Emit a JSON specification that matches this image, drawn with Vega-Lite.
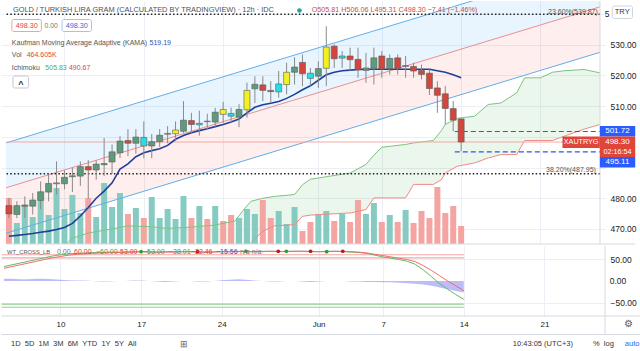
{
"$schema": "https://vega.github.io/schema/vega-lite/v6.json",
"background": "white",
"padding": 0,
"config": {"font": "Liberation Sans", "view": {"stroke": null}, "axis": {"labelOverlap": false, "labelBound": false}},
"datasets": {
"one": [{}],
"candles": [
{"i":0,"o":477.6,"h":480.1,"l":473.5,"c":474.9,"t":"down","v":1187,"d":"d"},
{"i":1,"o":474.7,"h":479.0,"l":473.5,"c":477.6,"t":"up","v":542,"d":"u"},
{"i":2,"o":477.4,"h":480.6,"l":473.6,"c":477.8,"t":"up","v":1006,"d":"u"},
{"i":3,"o":477.4,"h":481.7,"l":474.7,"c":479.4,"t":"up","v":697,"d":"u"},
{"i":4,"o":479.3,"h":485.5,"l":476.4,"c":482.1,"t":"up","v":1135,"d":"u"},
{"i":5,"o":482.0,"h":487.8,"l":479.0,"c":484.8,"t":"up","v":748,"d":"u"},
{"i":6,"o":484.7,"h":492.0,"l":481.3,"c":485.0,"t":"doji","v":1445,"d":"u"},
{"i":7,"o":484.7,"h":489.1,"l":482.9,"c":486.8,"t":"up","v":903,"d":"u"},
{"i":8,"o":487.0,"h":490.0,"l":482.0,"c":487.3,"t":"up","v":1264,"d":"u"},
{"i":9,"o":487.2,"h":492.0,"l":484.0,"c":490.3,"t":"up","v":800,"d":"u"},
{"i":10,"o":490.3,"h":492.4,"l":479.8,"c":489.2,"t":"down","v":1187,"d":"d"},
{"i":11,"o":489.2,"h":492.3,"l":486.0,"c":491.1,"t":"up","v":697,"d":"u"},
{"i":12,"o":490.9,"h":499.6,"l":487.2,"c":491.3,"t":"up","v":1574,"d":"u"},
{"i":13,"o":491.8,"h":497.5,"l":488.0,"c":495.1,"t":"up","v":955,"d":"u"},
{"i":14,"o":494.8,"h":500.2,"l":493.1,"c":498.6,"t":"up","v":1316,"d":"u"},
{"i":15,"o":498.8,"h":502.5,"l":493.7,"c":497.9,"t":"down","v":774,"d":"d"},
{"i":16,"o":497.9,"h":502.5,"l":494.5,"c":499.9,"t":"up","v":929,"d":"u"},
{"i":17,"o":499.8,"h":505.0,"l":493.0,"c":497.0,"t":"cyan","v":671,"d":"d"},
{"i":18,"o":497.0,"h":500.9,"l":493.0,"c":498.4,"t":"up","v":1213,"d":"u"},
{"i":19,"o":498.4,"h":502.5,"l":496.7,"c":500.5,"t":"up","v":671,"d":"u"},
{"i":20,"o":500.8,"h":503.5,"l":497.9,"c":501.1,"t":"doji","v":903,"d":"u"},
{"i":21,"o":501.0,"h":505.0,"l":498.6,"c":502.2,"t":"yellow","v":645,"d":"u"},
{"i":22,"o":501.8,"h":511.6,"l":501.3,"c":505.4,"t":"up","v":1238,"d":"u"},
{"i":23,"o":505.3,"h":507.8,"l":501.3,"c":504.0,"t":"down","v":671,"d":"d"},
{"i":24,"o":504.4,"h":508.5,"l":500.4,"c":503.9,"t":"cyan","v":980,"d":"u"},
{"i":25,"o":504.9,"h":507.5,"l":502.5,"c":505.1,"t":"doji","v":645,"d":"d"},
{"i":26,"o":504.8,"h":509.4,"l":502.9,"c":508.0,"t":"up","v":980,"d":"u"},
{"i":27,"o":507.3,"h":511.4,"l":504.5,"c":508.9,"t":"yellow","v":593,"d":"d"},
{"i":28,"o":507.6,"h":509.5,"l":504.5,"c":506.7,"t":"cyan","v":748,"d":"d"},
{"i":29,"o":506.4,"h":510.6,"l":503.1,"c":508.9,"t":"up","v":671,"d":"u"},
{"i":30,"o":508.8,"h":517.6,"l":506.2,"c":515.1,"t":"yellow","v":903,"d":"u"},
{"i":31,"o":515.6,"h":519.7,"l":511.0,"c":517.1,"t":"up","v":774,"d":"u"},
{"i":32,"o":516.9,"h":519.7,"l":511.6,"c":515.1,"t":"down","v":1135,"d":"d"},
{"i":33,"o":515.1,"h":518.1,"l":511.0,"c":514.7,"t":"down","v":671,"d":"d"},
{"i":34,"o":517.2,"h":521.4,"l":512.7,"c":514.6,"t":"cyan","v":851,"d":"u"},
{"i":35,"o":517.0,"h":524.1,"l":513.8,"c":521.0,"t":"yellow","v":516,"d":"u"},
{"i":36,"o":521.0,"h":525.9,"l":517.0,"c":522.7,"t":"up","v":955,"d":"u"},
{"i":37,"o":524.2,"h":526.8,"l":516.5,"c":520.5,"t":"down","v":335,"d":"d"},
{"i":38,"o":520.7,"h":522.4,"l":516.5,"c":519.0,"t":"cyan","v":568,"d":"d"},
{"i":39,"o":519.7,"h":524.6,"l":515.9,"c":522.2,"t":"up","v":774,"d":"u"},
{"i":40,"o":522.3,"h":536.0,"l":516.5,"c":529.2,"t":"yellow","v":851,"d":"u"},
{"i":41,"o":529.5,"h":530.1,"l":522.4,"c":525.4,"t":"down","v":593,"d":"d"},
{"i":42,"o":526.3,"h":527.9,"l":522.4,"c":525.6,"t":"cyan","v":774,"d":"u"},
{"i":43,"o":526.3,"h":529.0,"l":521.4,"c":525.1,"t":"down","v":568,"d":"d"},
{"i":44,"o":525.2,"h":529.0,"l":519.2,"c":521.8,"t":"down","v":1135,"d":"d"},
{"i":45,"o":521.6,"h":527.3,"l":517.6,"c":522.4,"t":"up","v":774,"d":"u"},
{"i":46,"o":522.3,"h":529.0,"l":517.0,"c":525.7,"t":"up","v":1058,"d":"u"},
{"i":47,"o":526.3,"h":527.9,"l":519.2,"c":522.1,"t":"down","v":568,"d":"d"},
{"i":48,"o":522.2,"h":526.8,"l":520.3,"c":525.5,"t":"up","v":748,"d":"u"},
{"i":49,"o":525.7,"h":526.8,"l":520.3,"c":522.3,"t":"down","v":568,"d":"d"},
{"i":50,"o":523.2,"h":526.3,"l":519.2,"c":522.9,"t":"doji","v":877,"d":"u"},
{"i":51,"o":522.9,"h":524.1,"l":519.2,"c":521.4,"t":"down","v":542,"d":"d"},
{"i":52,"o":521.6,"h":523.5,"l":518.7,"c":520.3,"t":"down","v":851,"d":"d"},
{"i":53,"o":520.7,"h":521.9,"l":513.6,"c":515.7,"t":"down","v":671,"d":"d"},
{"i":54,"o":515.9,"h":518.1,"l":507.8,"c":513.5,"t":"down","v":1471,"d":"d"},
{"i":55,"o":514.0,"h":516.5,"l":504.0,"c":509.2,"t":"down","v":800,"d":"d"},
{"i":56,"o":509.2,"h":511.6,"l":501.8,"c":505.4,"t":"down","v":980,"d":"d"},
{"i":57,"o":505.81,"h":506.06,"l":495.31,"c":498.3,"t":"down","v":465,"d":"d"}
],
"kama": [
{"i":0,"k":467.6},{"i":1,"k":467.9},{"i":2,"k":468.2},{"i":3,"k":468.5},{"i":4,"k":468.9},{"i":5,"k":469.3},{"i":6,"k":469.8},{"i":7,"k":470.5},{"i":8,"k":471.8},{"i":9,"k":474.2},{"i":10,"k":477.0},{"i":11,"k":480.0},{"i":12,"k":482.3},{"i":13,"k":485.0},{"i":14,"k":489.5},{"i":15,"k":491.2},{"i":16,"k":493.5},{"i":17,"k":494.8},{"i":18,"k":495.5},{"i":19,"k":496.1},{"i":20,"k":497.2},{"i":21,"k":499.2},{"i":22,"k":500.4},{"i":23,"k":501.3},{"i":24,"k":502.0},{"i":25,"k":502.6},{"i":26,"k":503.3},{"i":27,"k":504.0},{"i":28,"k":504.8},{"i":29,"k":505.8},{"i":30,"k":507.8},{"i":31,"k":509.6},{"i":32,"k":510.4},{"i":33,"k":510.9},{"i":34,"k":511.5},{"i":35,"k":512.5},{"i":36,"k":513.8},{"i":37,"k":515.3},{"i":38,"k":516.6},{"i":39,"k":518.4},{"i":40,"k":520.2},{"i":41,"k":521.0},{"i":42,"k":521.5},{"i":43,"k":521.7},{"i":44,"k":521.9},{"i":45,"k":522.0},{"i":46,"k":522.0},{"i":47,"k":522.0},{"i":48,"k":522.0},{"i":49,"k":522.0},{"i":50,"k":522.0},{"i":51,"k":522.0},{"i":52,"k":522.0},{"i":53,"k":522.0},{"i":54,"k":521.5},{"i":55,"k":521.0},{"i":56,"k":520.2},{"i":57,"k":519.2}
],
"cloud": [
{"i":6,"a":462,"b":440},{"i":8,"a":467,"b":440},{"i":10,"a":468.7,"b":440},{"i":13,"a":470,"b":440},{"i":15,"a":471,"b":440},{"i":18,"a":470.7,"b":440},{"i":20,"a":470.2,"b":440},{"i":23,"a":470.6,"b":440},{"i":26,"a":471.3,"b":440},{"i":28.5,"a":472.6,"b":452},{"i":29.5,"a":476,"b":460},{"i":30.5,"a":479,"b":465.5},{"i":32,"a":480,"b":469.3},{"i":33.5,"a":480.6,"b":471},{"i":36,"a":481.2,"b":471.4},{"i":37,"a":484.4,"b":474.1},{"i":38,"a":486.2,"b":474.5},{"i":40,"a":487,"b":474.8},{"i":43,"a":488.2,"b":475.2},{"i":45,"a":491,"b":476.3},{"i":46,"a":494,"b":480.1},{"i":47,"a":496.6,"b":480.1},{"i":50,"a":497.5,"b":480.1},{"i":51,"a":498,"b":484.5},{"i":53.5,"a":498.8,"b":484.5},{"i":54.5,"a":502,"b":486},{"i":55,"a":504,"b":488.2},{"i":56.5,"a":506,"b":490.4},{"i":58.7,"a":506.7,"b":491.5},{"i":60.4,"a":510.5,"b":493.1},{"i":62,"a":511,"b":494.2},{"i":64,"a":514.3,"b":494.2},{"i":65,"a":519.2,"b":498.8},{"i":67,"a":519.2,"b":498.8},{"i":68.5,"a":521,"b":498.8},{"i":70,"a":521.5,"b":500.2},{"i":72.5,"a":521.9,"b":502.5},{"i":74.5,"a":520.8,"b":504}
],
"channel": [
{"i":-0.37,"up":498.0,"mid":483.4,"lo":468.6},{"i":74.5,"up":556.9,"mid":542.3,"lo":527.5}
],
"osc": [
{"i":0,"g":33,"r":29,"b":5},{"i":1,"g":37,"r":33,"b":5},{"i":2,"g":41,"r":37,"b":4},{"i":3,"g":45,"r":41,"b":4},{"i":4,"g":49,"r":45,"b":5},{"i":5,"g":53,"r":49,"b":5},{"i":6,"g":57,"r":53,"b":4},{"i":7,"g":60,"r":56,"b":3},{"i":8,"g":62,"r":59,"b":2},{"i":9,"g":63,"r":61,"b":1},{"i":10,"g":64,"r":62,"b":1},{"i":11,"g":65,"r":63,"b":0},{"i":12,"g":65,"r":64,"b":-1},{"i":13,"g":66,"r":65,"b":-1},{"i":14,"g":66,"r":65,"b":0},{"i":15,"g":66,"r":66,"b":0},{"i":16,"g":67,"r":66,"b":1},{"i":17,"g":67,"r":67,"b":1},{"i":18,"g":66,"r":67,"b":0},{"i":19,"g":66,"r":66,"b":-1},{"i":20,"g":67,"r":66,"b":-2},{"i":21,"g":67,"r":66,"b":-1},{"i":22,"g":67,"r":67,"b":0},{"i":23,"g":67,"r":67,"b":0},{"i":24,"g":66,"r":67,"b":-1},{"i":25,"g":66,"r":66,"b":-1},{"i":26,"g":67,"r":66,"b":0},{"i":27,"g":67,"r":67,"b":2},{"i":28,"g":67,"r":67,"b":3},{"i":29,"g":68,"r":67,"b":4},{"i":30,"g":67,"r":68,"b":3},{"i":31,"g":67,"r":67,"b":1},{"i":32,"g":68,"r":67,"b":0},{"i":33,"g":68,"r":68,"b":-1},{"i":34,"g":67,"r":68,"b":-1},{"i":35,"g":68,"r":67,"b":0},{"i":36,"g":68,"r":68,"b":0},{"i":37,"g":68,"r":68,"b":-1},{"i":38,"g":67,"r":68,"b":-2},{"i":39,"g":67,"r":67,"b":-1},{"i":40,"g":68,"r":67,"b":0},{"i":41,"g":68,"r":68,"b":0},{"i":42,"g":67,"r":68,"b":0},{"i":43,"g":66,"r":67,"b":-1},{"i":44,"g":65,"r":66,"b":-1},{"i":45,"g":63,"r":64,"b":-2},{"i":46,"g":59,"r":61,"b":-2},{"i":47,"g":55,"r":58,"b":-3},{"i":48,"g":52,"r":55,"b":-3},{"i":49,"g":49,"r":52,"b":-4},{"i":50,"g":45,"r":49,"b":-5},{"i":51,"g":38,"r":44,"b":-6},{"i":52,"g":25,"r":35,"b":-8},{"i":53,"g":10,"r":24,"b":-11},{"i":54,"g":-6,"r":12,"b":-15},{"i":55,"g":-19,"r":0,"b":-19},{"i":56,"g":-31,"r":-11,"b":-23},{"i":57,"g":-42,"r":-22,"b":-26}
],
"dots": [
{"i":17,"v":67,"k":"g"},{"i":24,"v":67,"k":"r"},{"i":30,"v":68,"k":"g"},{"i":34,"v":68,"k":"r"},{"i":35,"v":68,"k":"g"},{"i":38,"v":68,"k":"r"},{"i":40,"v":67,"k":"g"},{"i":42,"v":68,"k":"r"}
]
},
"spacing": 2,
"bounds": "flush",
"vconcat": [
{
"width": 604, "height": 243,
"resolve": {"scale": {"y": "independent", "color": "independent"}},
"layer": [
{"data": {"name": "channel"},
 "layer": [
  {"mark": {"type": "area", "color": "#2196f3", "opacity": 0.1, "clip": true},
   "encoding": {
    "x": {"field": "i", "type": "quantitative", "scale": {"domain": [-0.37, 74.5], "nice": false, "zero": false}, "axis": {"values": [7,17,27,39,47,57,67], "grid": true, "gridColor": "#eceff5", "labels": false, "ticks": false, "domain": false, "title": null}},
    "y": {"field": "up", "type": "quantitative", "scale": {"domain": [465.1, 544.2], "nice": false, "zero": false}, "axis": {"orient": "right", "values": [470,480,490,500,510,520,530,540], "labelExpr": "(datum.value==540||datum.value==500||datum.value==490)?'':format(datum.value,'.2f')", "grid": true, "gridColor": "#eceff5", "ticks": false, "domain": false, "labelPadding": 5, "labelFontSize": 8.5, "labelColor": "#222", "title": null, "labelOverlap": false}},
    "y2": {"field": "mid"}}},
  {"mark": {"type": "area", "color": "#f44336", "opacity": 0.09, "clip": true},
   "encoding": {
    "x": {"field": "i", "type": "quantitative", "scale": {"domain": [-0.37, 74.5], "nice": false, "zero": false}},
    "y": {"field": "mid", "type": "quantitative", "scale": {"domain": [465.1, 544.2], "nice": false, "zero": false}, "axis": {"orient": "right", "values": [470,480,490,500,510,520,530,540], "labelExpr": "(datum.value==540||datum.value==500||datum.value==490)?'':format(datum.value,'.2f')", "grid": true, "gridColor": "#eceff5", "ticks": false, "domain": false, "labelPadding": 5, "labelFontSize": 8.5, "labelColor": "#222", "title": null, "labelOverlap": false}},
    "y2": {"field": "lo"}}},
  {"data": {"name": "cloud"},
   "mark": {"type": "area", "color": "#4caf50", "opacity": 0.11, "clip": true},
   "encoding": {
    "x": {"field": "i", "type": "quantitative", "scale": {"domain": [-0.37, 74.5], "nice": false, "zero": false}},
    "y": {"field": "a", "type": "quantitative", "scale": {"domain": [465.1, 544.2], "nice": false, "zero": false}, "axis": {"orient": "right", "values": [470,480,490,500,510,520,530,540], "labelExpr": "(datum.value==540||datum.value==500||datum.value==490)?'':format(datum.value,'.2f')", "grid": true, "gridColor": "#eceff5", "ticks": false, "domain": false, "labelPadding": 5, "labelFontSize": 8.5, "labelColor": "#222", "title": null, "labelOverlap": false}},
    "y2": {"field": "b"}}}
 ]},
{"data": {"name": "candles"},
 "mark": {"type": "bar", "width": 6, "clip": true, "opacity": 1},
 "encoding": {
  "x": {"field": "i", "type": "quantitative", "scale": {"domain": [-0.37, 74.5], "nice": false, "zero": false}},
  "y": {"field": "v", "type": "quantitative", "scale": {"domain": [0, 6270], "nice": false}, "axis": null},
  "color": {"field": "d", "type": "nominal", "scale": {"domain": ["u", "d"], "range": ["#86cbc1", "#f4a5a1"]}, "legend": null}}},
{"data": {"name": "one"},
 "layer": [
  {"data": {"name": "cloud"}, "mark": {"type": "line", "color": "#7cc47f", "strokeWidth": 1, "clip": true},
   "encoding": {"x": {"field": "i", "type": "quantitative", "scale": {"domain": [-0.37, 74.5], "nice": false, "zero": false}},
    "y": {"field": "a", "type": "quantitative", "scale": {"domain": [465.1, 544.2], "nice": false, "zero": false}, "axis": null}}},
  {"data": {"name": "cloud"}, "mark": {"type": "line", "color": "#f08a84", "strokeWidth": 1, "clip": true},
   "encoding": {"x": {"field": "i", "type": "quantitative", "scale": {"domain": [-0.37, 74.5], "nice": false, "zero": false}},
    "y": {"field": "b", "type": "quantitative", "scale": {"domain": [465.1, 544.2], "nice": false, "zero": false}, "axis": null}}},
  {"data": {"name": "channel"}, "mark": {"type": "line", "color": "#62aee8", "strokeWidth": 1, "clip": true},
   "encoding": {"x": {"field": "i", "type": "quantitative", "scale": {"domain": [-0.37, 74.5], "nice": false, "zero": false}},
    "y": {"field": "up", "type": "quantitative", "scale": {"domain": [465.1, 544.2], "nice": false, "zero": false}, "axis": null}}},
  {"data": {"name": "channel"}, "mark": {"type": "line", "color": "#ea9190", "strokeWidth": 1, "clip": true},
   "encoding": {"x": {"field": "i", "type": "quantitative", "scale": {"domain": [-0.37, 74.5], "nice": false, "zero": false}},
    "y": {"field": "mid", "type": "quantitative", "scale": {"domain": [465.1, 544.2], "nice": false, "zero": false}, "axis": null}}},
  {"data": {"name": "channel"}, "mark": {"type": "line", "color": "#62aee8", "strokeWidth": 1, "clip": true},
   "encoding": {"x": {"field": "i", "type": "quantitative", "scale": {"domain": [-0.37, 74.5], "nice": false, "zero": false}},
    "y": {"field": "lo", "type": "quantitative", "scale": {"domain": [465.1, 544.2], "nice": false, "zero": false}, "axis": null}}},
  {"mark": {"type": "rule", "color": "#f3aaa4", "strokeWidth": 1},
   "encoding": {"x": {"datum": -0.3}, "x2": {"datum": 74.5}, "y": {"datum": 498.3, "axis": null}}},
  {"mark": {"type": "rule", "color": "#222", "strokeWidth": 1.4, "strokeDash": [1.5, 2.2]},
   "encoding": {"x": {"datum": -0.3}, "x2": {"datum": 74.5}, "y": {"datum": 539.87, "axis": null}}},
  {"mark": {"type": "rule", "color": "#222", "strokeWidth": 1.4, "strokeDash": [1.5, 2.2]},
   "encoding": {"x": {"datum": -0.3}, "x2": {"datum": 74.5}, "y": {"datum": 487.95, "axis": null}}},
  {"data": {"name": "kama"}, "mark": {"type": "line", "color": "#1f3f99", "strokeWidth": 1.6, "clip": true},
   "encoding": {"x": {"field": "i", "type": "quantitative", "scale": {"domain": [-0.37, 74.5], "nice": false, "zero": false}},
    "y": {"field": "k", "type": "quantitative", "scale": {"domain": [465.1, 544.2], "nice": false, "zero": false}, "axis": null}}},
  {"mark": {"type": "rule", "color": "#3355ee", "strokeWidth": 1.2, "strokeDash": [5, 3]},
   "encoding": {"x": {"datum": 56.2}, "x2": {"datum": 74.5}, "y": {"datum": 501.72, "axis": null}}},
  {"mark": {"type": "rule", "color": "#3355ee", "strokeWidth": 1.2, "strokeDash": [5, 3]},
   "encoding": {"x": {"datum": 56.2}, "x2": {"datum": 74.5}, "y": {"datum": 495.11, "axis": null}}},
  {"data": {"name": "candles"}, "mark": {"type": "rule", "color": "#8a8a8a", "strokeWidth": 1},
   "encoding": {"x": {"field": "i", "type": "quantitative", "scale": {"domain": [-0.37, 74.5], "nice": false, "zero": false}},
    "y": {"field": "l", "type": "quantitative", "scale": {"domain": [465.1, 544.2], "nice": false, "zero": false}, "axis": null},
    "y2": {"field": "h"}}},
  {"data": {"name": "candles"}, "mark": {"type": "bar", "width": 6, "stroke": "#5a5a5a", "strokeWidth": 0.6, "clip": true, "opacity": 1},
   "encoding": {"x": {"field": "i", "type": "quantitative", "scale": {"domain": [-0.37, 74.5], "nice": false, "zero": false}},
    "y": {"field": "o", "type": "quantitative", "scale": {"domain": [465.1, 544.2], "nice": false, "zero": false}, "axis": null},
    "y2": {"field": "c"},
    "color": {"field": "t", "type": "nominal", "scale": {"domain": ["up", "down", "yellow", "cyan", "doji"], "range": ["#5c9c7c", "#d4463c", "#f2f022", "#22e0ea", "#a8a8a8"]}, "legend": null}}},
  {"mark": {"type": "text", "text": "GOLD / TURKISH LIRA GRAM (CALCULATED BY TRADINGVIEW) · 12h · IDC", "align": "left", "baseline": "middle", "fontSize": 7.4, "color": "#505050"},
   "encoding": {"x": {"datum": 0.5}, "y": {"datum": 541.11, "axis": null}}},
  {"mark": {"type": "point", "filled": true, "size": 22, "color": "#26a69a", "opacity": 1},
   "encoding": {"x": {"datum": 36.62}, "y": {"datum": 541.11, "axis": null}}},
  {"mark": {"type": "text", "text": "O505.81 H506.06 L495.31 C498.30 \u22127.41 (\u22121.46%)", "align": "left", "baseline": "middle", "fontSize": 7.2, "color": "#c0504b"},
   "encoding": {"x": {"datum": 38.17}, "y": {"datum": 541.11, "axis": null}}},
  {"mark": {"type": "rect", "fill": "white", "stroke": "#eaa5a0", "strokeWidth": 1, "cornerRadius": 2},
   "encoding": {"x": {"datum": 0.37}, "x2": {"datum": 4.09}, "y": {"datum": 534.27, "axis": null}, "y2": {"datum": 538.18}}},
  {"mark": {"type": "text", "text": "498.30", "align": "center", "baseline": "middle", "fontSize": 7.2, "color": "#e0453a"},
   "encoding": {"x": {"datum": 2.23}, "y": {"datum": 536.22, "axis": null}}},
  {"mark": {"type": "text", "text": "0.00", "align": "center", "baseline": "middle", "fontSize": 6.8, "color": "#777"},
   "encoding": {"x": {"datum": 5.33}, "y": {"datum": 536.22, "axis": null}}},
  {"mark": {"type": "rect", "fill": "white", "stroke": "#a9c0ee", "strokeWidth": 1, "cornerRadius": 2},
   "encoding": {"x": {"datum": 6.69}, "x2": {"datum": 10.41}, "y": {"datum": 534.27, "axis": null}, "y2": {"datum": 538.18}}},
  {"mark": {"type": "text", "text": "498.30", "align": "center", "baseline": "middle", "fontSize": 7.2, "color": "#3a6bd6"},
   "encoding": {"x": {"datum": 8.55}, "y": {"datum": 536.22, "axis": null}}},
  {"mark": {"type": "text", "text": "Kaufman Moving Average Adaptive (KAMA)", "align": "left", "baseline": "middle", "fontSize": 7, "color": "#555"},
   "encoding": {"x": {"datum": 0.37}, "y": {"datum": 530.63, "axis": null}}},
  {"mark": {"type": "text", "text": "519.19", "align": "left", "baseline": "middle", "fontSize": 7, "color": "#2a55b5"},
   "encoding": {"x": {"datum": 17.72}, "y": {"datum": 530.63, "axis": null}}},
  {"mark": {"type": "text", "text": "Vol", "align": "left", "baseline": "middle", "fontSize": 7, "color": "#555"},
   "encoding": {"x": {"datum": 0.37}, "y": {"datum": 526.46, "axis": null}}},
  {"mark": {"type": "text", "text": "464.605K", "align": "left", "baseline": "middle", "fontSize": 7, "color": "#e0453a"},
   "encoding": {"x": {"datum": 2.23}, "y": {"datum": 526.46, "axis": null}}},
  {"mark": {"type": "text", "text": "Ichimoku", "align": "left", "baseline": "middle", "fontSize": 7, "color": "#555"},
   "encoding": {"x": {"datum": 0.37}, "y": {"datum": 522.39, "axis": null}}},
  {"mark": {"type": "text", "text": "505.83", "align": "left", "baseline": "middle", "fontSize": 7, "color": "#4caf50"},
   "encoding": {"x": {"datum": 4.59}, "y": {"datum": 522.39, "axis": null}}},
  {"mark": {"type": "text", "text": "490.67", "align": "left", "baseline": "middle", "fontSize": 7, "color": "#e0453a"},
   "encoding": {"x": {"datum": 7.56}, "y": {"datum": 522.39, "axis": null}}},
  {"mark": {"type": "rect", "fill": "white", "stroke": "#c4c8d2", "strokeWidth": 1, "cornerRadius": 2},
   "encoding": {"x": {"datum": 0.5}, "x2": {"datum": 2.48}, "y": {"datum": 515.88, "axis": null}, "y2": {"datum": 519.79}}},
  {"mark": {"type": "text", "text": "^", "align": "center", "baseline": "middle", "fontSize": 9, "fontWeight": "bold", "color": "#333", "dy": 2},
   "encoding": {"x": {"datum": 1.49}, "y": {"datum": 517.83, "axis": null}}},
  {"mark": {"type": "text", "text": "23.60%(539.87)", "align": "right", "baseline": "middle", "fontSize": 7, "color": "#555"},
   "encoding": {"x": {"datum": 74.23}, "y": {"datum": 540.46, "axis": null}}},
  {"mark": {"type": "text", "text": "38.20%(487.95)", "align": "right", "baseline": "middle", "fontSize": 7, "color": "#555"},
   "encoding": {"x": {"datum": 73.98}, "y": {"datum": 489.35, "axis": null}}},
  {"mark": {"type": "rule", "color": "#d6d9e0", "strokeWidth": 1},
   "encoding": {"x": {"datum": 74.5}, "y": {"datum": 465.1, "axis": null}, "y2": {"datum": 544.2}}},
  {"mark": {"type": "rule", "color": "#d6d9e0", "strokeWidth": 1},
   "encoding": {"x": {"datum": -0.3}, "x2": {"datum": 78.94}, "y": {"datum": 465.1, "axis": null}}},
  {"mark": {"type": "text", "text": "5", "align": "left", "baseline": "middle", "fontSize": 8.5, "color": "#222"},
   "encoding": {"x": {"datum": 75.09}, "y": {"datum": 540, "axis": null}}},
  {"mark": {"type": "rect", "fill": "#2b5cff"},
   "encoding": {"x": {"datum": 74.48}, "x2": {"datum": 78.94}, "y": {"datum": 500.09, "axis": null}, "y2": {"datum": 503.51}}},
  {"mark": {"type": "text", "text": "501.72", "align": "center", "baseline": "middle", "fontSize": 8, "color": "white"},
   "encoding": {"x": {"datum": 76.7}, "y": {"datum": 501.78, "axis": null}}},
  {"mark": {"type": "rect", "fill": "#e0453a"},
   "encoding": {"x": {"datum": 69.77}, "x2": {"datum": 74.48}, "y": {"datum": 496.35, "axis": null}, "y2": {"datum": 500.09}}},
  {"mark": {"type": "text", "text": "XAUTRYG", "align": "center", "baseline": "middle", "fontSize": 7.2, "color": "white"},
   "encoding": {"x": {"datum": 72.12}, "y": {"datum": 498.2, "axis": null}}},
  {"mark": {"type": "rect", "fill": "#e0453a"},
   "encoding": {"x": {"datum": 74.48}, "x2": {"datum": 78.94}, "y": {"datum": 493.42, "axis": null}, "y2": {"datum": 500.09}}},
  {"mark": {"type": "text", "text": "498.30", "align": "center", "baseline": "middle", "fontSize": 8, "color": "white"},
   "encoding": {"x": {"datum": 76.7}, "y": {"datum": 498.2, "axis": null}}},
  {"mark": {"type": "text", "text": "02:16:54", "align": "center", "baseline": "middle", "fontSize": 7.2, "color": "white"},
   "encoding": {"x": {"datum": 76.7}, "y": {"datum": 495.11, "axis": null}}},
  {"mark": {"type": "rect", "fill": "#2b5cff"},
   "encoding": {"x": {"datum": 74.48}, "x2": {"datum": 78.94}, "y": {"datum": 490.0, "axis": null}, "y2": {"datum": 493.42}}},
  {"mark": {"type": "text", "text": "495.11", "align": "center", "baseline": "middle", "fontSize": 8, "color": "white"},
   "encoding": {"x": {"datum": 76.7}, "y": {"datum": 491.7, "axis": null}}},
  {"mark": {"type": "rect", "fill": "white", "stroke": "#d1d4dc", "strokeWidth": 1, "cornerRadius": 2},
   "encoding": {"x": {"datum": 76.05}, "x2": {"datum": 78.6}, "y": {"datum": 538.5, "axis": null}, "y2": {"datum": 542.57}}},
  {"mark": {"type": "text", "text": "TRY", "align": "center", "baseline": "middle", "fontSize": 7.5, "color": "#333"},
   "encoding": {"x": {"datum": 77.3}, "y": {"datum": 540.52, "axis": null}}}
 ]}
]
},
{
"width": 604, "height": 70,
"data": {"name": "one"},
"layer": [
 {"data": {"name": "osc"}, "mark": {"type": "area", "color": "#6b6bef", "opacity": 0.45},
  "encoding": {
   "x": {"field": "i", "type": "quantitative", "scale": {"domain": [-0.37, 74.5], "nice": false, "zero": false}, "axis": {"values": [7,17,27,39,47,57,67], "grid": true, "gridColor": "#eceff5", "ticks": false, "domain": false, "labelPadding": 4, "labelFontSize": 8, "labelColor": "#222", "labelOverlap": false, "labelFlush": false, "title": null, "labelExpr": "datum.value==7?'10':datum.value==17?'17':datum.value==27?'24':datum.value==39?'Jun':datum.value==47?'7':datum.value==57?'14':'21'"}},
   "y": {"field": "b", "type": "quantitative", "scale": {"domain": [-80, 80], "nice": false, "zero": false}, "axis": {"orient": "right", "values": [-50, 0, 50], "labelExpr": "datum.value==0?'':format(datum.value, '.2f')", "grid": true, "gridColor": "#eceff5", "ticks": false, "domain": false, "labelPadding": 5, "labelFontSize": 8.5, "labelColor": "#222", "title": null, "labelOverlap": false}},
   "y2": {"datum": 0}}},
 {"mark": {"type": "rule", "color": "#f2a7a7", "strokeWidth": 1.2}, "encoding": {"x": {"datum": -0.3}, "x2": {"datum": 57}, "y": {"datum": 60}}},
 {"mark": {"type": "rule", "color": "#f2a7a7", "strokeWidth": 1.2}, "encoding": {"x": {"datum": -0.3}, "x2": {"datum": 57}, "y": {"datum": 53}}},
 {"mark": {"type": "rule", "color": "#93cf93", "strokeWidth": 1.2}, "encoding": {"x": {"datum": -0.3}, "x2": {"datum": 57}, "y": {"datum": -53}}},
 {"mark": {"type": "rule", "color": "#93cf93", "strokeWidth": 1.2}, "encoding": {"x": {"datum": -0.3}, "x2": {"datum": 57}, "y": {"datum": -60}}},
 {"data": {"name": "osc"}, "mark": {"type": "line", "color": "#6ab46a", "strokeWidth": 1},
  "encoding": {"x": {"field": "i", "type": "quantitative", "scale": {"domain": [-0.37, 74.5], "nice": false, "zero": false}},
   "y": {"field": "g", "type": "quantitative", "scale": {"domain": [-80, 80], "nice": false, "zero": false}}}},
 {"data": {"name": "osc"}, "mark": {"type": "line", "color": "#ef6f6c", "strokeWidth": 1},
  "encoding": {"x": {"field": "i", "type": "quantitative", "scale": {"domain": [-0.37, 74.5], "nice": false, "zero": false}},
   "y": {"field": "r", "type": "quantitative", "scale": {"domain": [-80, 80], "nice": false, "zero": false}}}},
 {"data": {"name": "dots"}, "mark": {"type": "point", "filled": true, "size": 14, "opacity": 1},
  "encoding": {"x": {"field": "i", "type": "quantitative", "scale": {"domain": [-0.37, 74.5], "nice": false, "zero": false}},
   "y": {"field": "v", "type": "quantitative", "scale": {"domain": [-80, 80], "nice": false, "zero": false}},
   "color": {"field": "k", "type": "nominal", "scale": {"domain": ["r", "g"], "range": ["#b71c1c", "#2e9d32"]}, "legend": null}}},
 {"mark": {"type": "text", "text": "WT_CROSS_LB", "align": "left", "baseline": "middle", "fontSize": 5.8, "color": "#555"}, "encoding": {"x": {"datum": 0.37}, "y": {"datum": 67}}},
 {"mark": {"type": "text", "text": "0.00", "align": "left", "baseline": "middle", "fontSize": 7, "color": "#777"}, "encoding": {"x": {"datum": 6.57}, "y": {"datum": 67}}},
 {"mark": {"type": "text", "text": "60.00", "align": "left", "baseline": "middle", "fontSize": 7, "color": "#e53935"}, "encoding": {"x": {"datum": 8.68}, "y": {"datum": 67}}},
 {"mark": {"type": "text", "text": "\u221260.00", "align": "left", "baseline": "middle", "fontSize": 7, "color": "#43a047"}, "encoding": {"x": {"datum": 11.4}, "y": {"datum": 67}}},
 {"mark": {"type": "text", "text": "53.00", "align": "left", "baseline": "middle", "fontSize": 7, "color": "#e53935"}, "encoding": {"x": {"datum": 14.38}, "y": {"datum": 67}}},
 {"mark": {"type": "text", "text": "\u221253.00", "align": "left", "baseline": "middle", "fontSize": 7, "color": "#43a047"}, "encoding": {"x": {"datum": 17.23}, "y": {"datum": 67}}},
 {"mark": {"type": "text", "text": "\u221238.01", "align": "left", "baseline": "middle", "fontSize": 7, "color": "#43a047"}, "encoding": {"x": {"datum": 20.45}, "y": {"datum": 67}}},
 {"mark": {"type": "text", "text": "\u221232.46", "align": "left", "baseline": "middle", "fontSize": 7, "color": "#e53935"}, "encoding": {"x": {"datum": 23.17}, "y": {"datum": 67}}},
 {"mark": {"type": "text", "text": "\u221215.56", "align": "left", "baseline": "middle", "fontSize": 7, "color": "#3f51b5"}, "encoding": {"x": {"datum": 26.27}, "y": {"datum": 67}}},
 {"mark": {"type": "text", "text": "n/a n/a", "align": "left", "baseline": "middle", "fontSize": 7, "color": "#777"}, "encoding": {"x": {"datum": 29.25}, "y": {"datum": 67}}},
 {"mark": {"type": "text", "text": "0.00", "align": "left", "baseline": "middle", "fontSize": 8.5, "color": "#222"}, "encoding": {"x": {"datum": 75.09}, "y": {"datum": 0}}},
 {"mark": {"type": "rule", "color": "#d6d9e0", "strokeWidth": 1}, "encoding": {"x": {"datum": 74.5}, "y": {"datum": 80}, "y2": {"datum": -122.3}}},
 {"mark": {"type": "rule", "color": "#d6d9e0", "strokeWidth": 1}, "encoding": {"x": {"datum": -0.3}, "x2": {"datum": 78.94}, "y": {"datum": -80}}},
 {"mark": {"type": "rule", "color": "#d6d9e0", "strokeWidth": 1}, "encoding": {"x": {"datum": -0.3}, "x2": {"datum": 78.94}, "y": {"datum": -122.3}}},
 {"mark": {"type": "text", "text": "\u2699", "align": "center", "baseline": "middle", "fontSize": 10, "color": "#555"}, "encoding": {"x": {"datum": 77.45}, "y": {"datum": -98.3}}},
 {"mark": {"type": "text", "text": "1D\u00a0\u00a05D\u00a0\u00a01M\u00a0\u00a03M\u00a0\u00a06M\u00a0\u00a0YTD\u00a0\u00a01Y\u00a0\u00a05Y\u00a0\u00a0All", "align": "left", "baseline": "middle", "fontSize": 7.5, "color": "#333"}, "encoding": {"x": {"datum": 0.87}, "y": {"datum": -144}}},
 {"mark": {"type": "text", "text": "\u229e", "align": "center", "baseline": "middle", "fontSize": 9, "color": "#666"}, "encoding": {"x": {"datum": 22.3}, "y": {"datum": -144}}},
 {"mark": {"type": "text", "text": "10:43:05 (UTC+3)", "align": "left", "baseline": "middle", "fontSize": 7.5, "color": "#333"}, "encoding": {"x": {"datum": 63.07}, "y": {"datum": -144}}},
 {"mark": {"type": "text", "text": "%", "align": "left", "baseline": "middle", "fontSize": 7.5, "color": "#333"}, "encoding": {"x": {"datum": 73.0}, "y": {"datum": -144}}},
 {"mark": {"type": "text", "text": "log", "align": "left", "baseline": "middle", "fontSize": 7.5, "color": "#333"}, "encoding": {"x": {"datum": 74.35}, "y": {"datum": -144}}},
 {"mark": {"type": "text", "text": "auto", "align": "left", "baseline": "middle", "fontSize": 7.5, "color": "#2962ff"}, "encoding": {"x": {"datum": 76.96}, "y": {"datum": -144}}}
]
}
]
}
